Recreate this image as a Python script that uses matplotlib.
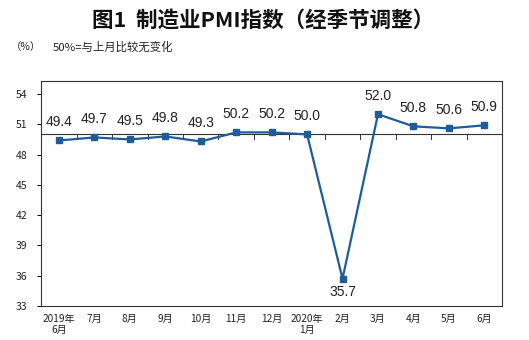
import matplotlib
matplotlib.use("Agg")
import matplotlib.pyplot as plt

plt.rcParams['font.family'] = ['Noto Sans CJK SC', 'DejaVu Sans']

categories = ["2019年\n6月", "7月", "8月", "9月", "10月", "11月", "12月",
              "2020年\n1月", "2月", "3月", "4月", "5月", "6月"]
pmi = [49.4, 49.7, 49.5, 49.8, 49.3, 50.2, 50.2, 50.0, 35.7, 52.0, 50.8, 50.6, 50.9]
yticks = [33, 36, 39, 42, 45, 48, 51, 54]

color = "#1f5c98"
fig = plt.figure(figsize=(5.29, 3.40), dpi=100)
ax = fig.add_axes([0.078, 0.1, 0.871, 0.662])

x = list(range(len(pmi)))
ax.plot(x, pmi, color=color, lw=1.6, marker='s', ms=4, zorder=3)
ax.set_xlim(-0.5, len(pmi) - 0.5)
ax.set_ylim(33, 55.3)
ax.set_yticks(yticks)
ax.set_yticklabels([str(v) for v in yticks], fontsize=7.5, color="#222222")
ax.tick_params(axis='y', length=3, width=0.7, direction='out', pad=7)
ax.set_xticks(x)
ax.set_xticklabels(categories, fontsize=7.3, color="#222222", linespacing=1.1, va='top')
ax.tick_params(axis='x', length=0, pad=6)
for s in ax.spines.values():
    s.set_linewidth(0.8)
    s.set_color("#333333")

# 50 reference line with boundary ticks
ax.axhline(50, color="#333333", lw=0.8, zorder=2)
for b in range(1, len(pmi)):
    ax.plot([b - 0.5, b - 0.5], [50, 49.55], color="#333333", lw=0.7, zorder=2)

for xi, v in zip(x, pmi):
    off = -13 if v < 40 else 18
    ax.annotate(f"{v:.1f}", (xi, v), xytext=(0, off), textcoords='offset pixels',
                ha='center', va='center', fontsize=10, family='Liberation Sans', color="#222222")

fig.text(0.497, 0.94, "图1  制造业PMI指数（经季节调整）", ha='center', va='center',
         fontsize=15.5, fontweight='bold', color="#111111")
fig.text(0.02, 0.862, "（%）", ha='left', va='center', fontsize=7.5, color="#222222")
fig.text(0.1, 0.862, "50%=与上月比较无变化", ha='left', va='center', fontsize=8.2, color="#222222")

fig.savefig("out.png", dpi=100)
